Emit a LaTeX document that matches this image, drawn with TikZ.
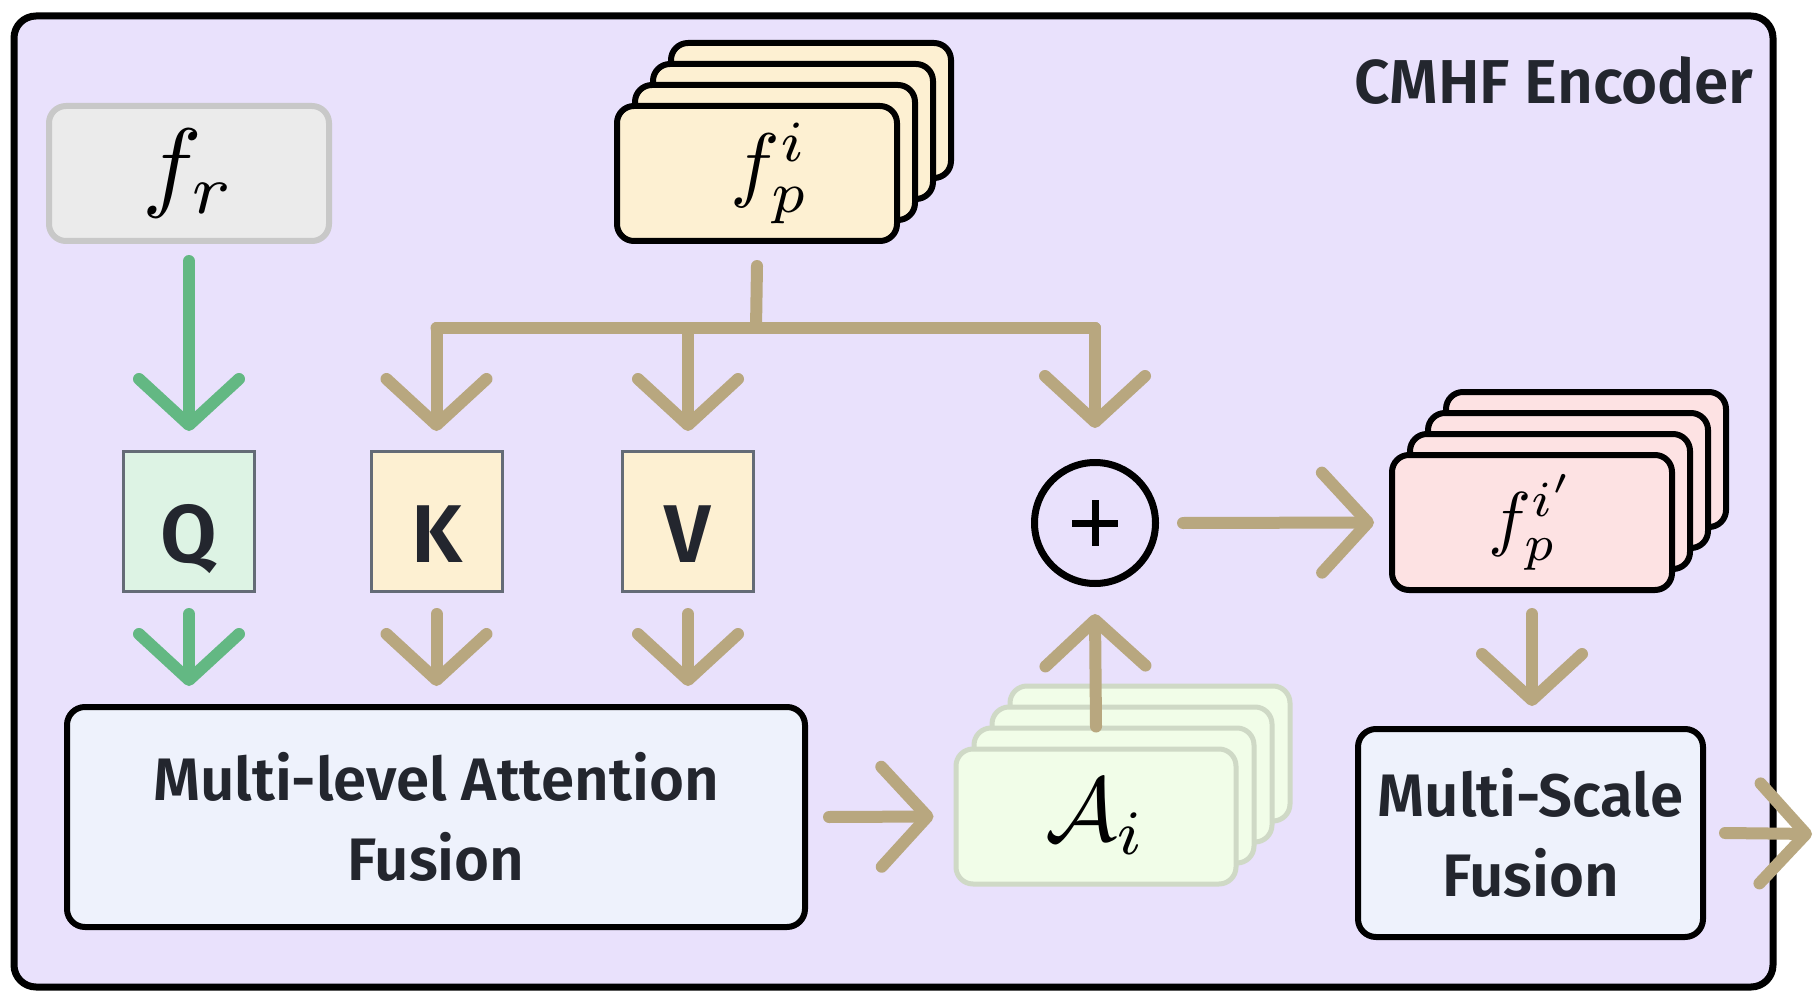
\documentclass[tikz,border=0pt]{standalone}
\usepackage{fontspec}
\setsansfont{Fira Sans}[BoldFont={* SemiBold}]
\usetikzlibrary{arrows.meta,calc}
\definecolor{bg}{HTML}{E9E1FC}
\definecolor{ink}{HTML}{23262E}
\definecolor{tanc}{HTML}{B8A77F}
\definecolor{grn}{HTML}{63B883}
\definecolor{frfill}{HTML}{EBEBEB}
\definecolor{frline}{HTML}{C8C8C8}
\definecolor{cream}{HTML}{FDF0D2}
\definecolor{qfill}{HTML}{DDF3E4}
\definecolor{boxline}{HTML}{646B76}
\definecolor{pink}{HTML}{FDE2E3}
\definecolor{afill}{HTML}{F1FDE8}
\definecolor{aline}{HTML}{CFD9C6}
\definecolor{bluefill}{HTML}{EEF2FC}
\tikzset{
  tanarr/.style={draw=tanc, line width=12pt, line cap=round, -{Straight Barb[length=46pt,width=100pt,round]}},
  tanline/.style={draw=tanc, line width=12pt, line cap=round},
  grnarr/.style={draw=grn, line width=12pt, line cap=round, -{Straight Barb[length=46pt,width=100pt,round]}},
  lbl/.style={font=\sffamily\bfseries\fontsize{60}{80}\selectfont, text=ink, align=center},
  stackbox/.style={rounded corners=17pt, line width=6pt, minimum width=280pt, minimum height=135pt, inner sep=0pt},
  fpbox/.style={stackbox, draw=black, fill=cream},
  fppbox/.style={stackbox, draw=black, fill=pink},
  aibox/.style={stackbox, draw=aline, fill=afill, line width=5pt},
  qkv/.style={minimum width=131pt, minimum height=140pt, line width=3pt, draw=boxline, inner sep=0pt,
     text height=81pt, text depth=0pt,
     font=\sffamily\bfseries\fontsize{82}{82}\selectfont, text=ink},
  bigbox/.style={rounded corners=18pt, line width=6pt, draw=black, fill=bluefill, inner sep=0pt},
}
\begin{document}
\begin{tikzpicture}[x=1pt,y=-1pt]
\useasboundingbox (0,0) rectangle (1816,1003);
\fill[white] (0,0) rectangle (1816,1003);
\draw[line width=7pt, fill=bg, rounded corners=22pt] (14,16) rectangle (1773,987);
\node[lbl, anchor=base east, font=\sffamily\bfseries\fontsize{62}{62}\selectfont] (title) at (1757,104) {CMHF Encoder};

% f_r
\node[stackbox, draw=frline, fill=frfill] (fr) at (189,173.5) {\scalebox{10}{$f_r$}};

% f_p^i stack
\node[fpbox] (fp3) at (811,110.5) {};
\node[fpbox] (fp2) at (793,131.5) {};
\node[fpbox] (fp1) at (775,152.5) {};
\node[fpbox] (fp) at (757,173.5) {\hspace*{26pt}\raisebox{-4pt}{\scalebox{8.3}{$f_p^i$}}};

% Q K V
\node[qkv, fill=qfill] (Q) at (189,521.5) {Q};
\node[qkv, fill=cream] (K) at (436.5,521.5) {K};
\node[qkv, fill=cream] (V) at (688,521.5) {V};

% plus
\node[circle, draw=black, line width=7pt, minimum size=121pt, inner sep=0pt] (plus) at (1095,523) {};
\draw[line width=7pt] ($(plus.center)+(-23,0)$) -- ($(plus.center)+(23,0)$);
\draw[line width=7pt] ($(plus.center)+(0,-23)$) -- ($(plus.center)+(0,23)$);

% f_p^i' stack
\node[fppbox] (fpp3) at (1586,459.5) {};
\node[fppbox] (fpp2) at (1568,480.5) {};
\node[fppbox] (fpp1) at (1550,501.5) {};
\node[fppbox] (fpp) at (1532,522.5) {\scalebox{7.2}{$f_p^{i'}$}};

% Multi-level Attention Fusion
\node[bigbox, minimum width=738pt, minimum height=220pt, lbl] (mlaf) at (436,817) {Multi-level Attention\\Fusion};

% A_i stack
\node[aibox] (ai3) at (1150,753.5) {};
\node[aibox] (ai2) at (1132,774.5) {};
\node[aibox] (ai1) at (1114,795.5) {};
\node[aibox] (ai) at (1096,816.5) {\scalebox{9}{$\mathcal{A}_i$}};

% Multi-Scale Fusion
\node[bigbox, minimum width=345pt, minimum height=208pt, lbl] (msf) at (1530.5,833) {Multi-Scale\\Fusion};
\coordinate (out) at (1812,834);

% connectors
\draw[grnarr] ($(fr.south)+(0,17)$) -- ($(Q.north)+(0,-19)$);
\coordinate (bar) at (756,328);
\draw[tanline] ($(fp.south)+(0,22)$) -- (bar);
\draw[tanline] (K.north |- bar) -- (plus.north |- bar);
\draw[tanarr] (K.north |- bar) -- ($(K.north)+(0,-19)$);
\draw[tanarr] (V.north |- bar) -- ($(V.north)+(0,-19)$);
\draw[tanarr] (plus.north |- bar) -- ($(plus.north)+(0,-31)$);

\draw[grnarr] ($(Q.south)+(0,21)$) -- ($(Q.south |- mlaf.north)+(0,-18)$);
\draw[tanarr] ($(K.south)+(0,21)$) -- ($(K.south |- mlaf.north)+(0,-18)$);
\draw[tanarr] ($(V.south)+(0,21)$) -- ($(V.south |- mlaf.north)+(0,-18)$);

\draw[tanarr] ($(mlaf.east)+(21,0)$) -- ($(ai.west)+(-20,0)$);
\draw[tanarr] ($(ai.north)+(0,-20)$) -- ($(plus.south)+(0,27)$);
\draw[tanarr] ($(plus.east)+(24,0)$) -- ($(fpp.west)+(-15,0)$);
\draw[tanarr] ($(fpp.south)+(0,21)$) -- ($(fpp.south |- msf.north)+(0,-20)$);
\draw[tanarr] ($(msf.east)+(19,0)$) -- (out);
\end{tikzpicture}
\end{document}
